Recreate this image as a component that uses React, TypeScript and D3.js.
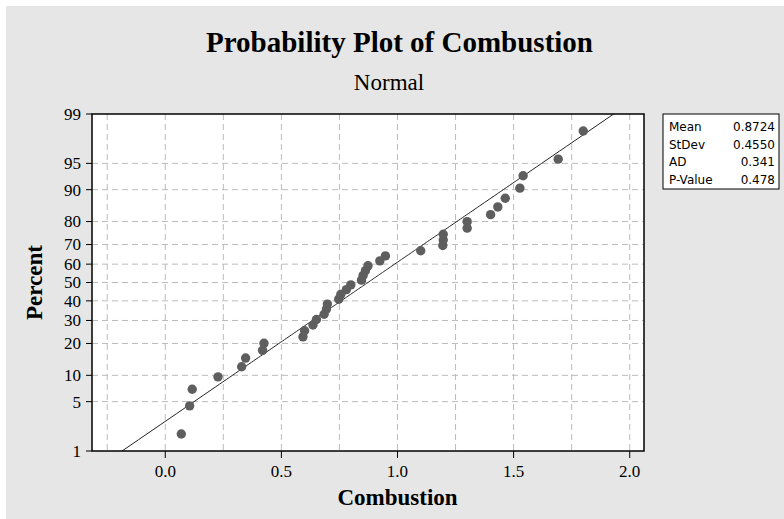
import React from "react";
import * as d3 from "d3";

// ---- Data ----
const combustion = [
  0.069, 0.105, 0.116, 0.227, 0.329, 0.346, 0.419, 0.425,
  0.593, 0.600, 0.636, 0.651, 0.684, 0.694, 0.698,
  0.747, 0.756, 0.780, 0.799,
  0.845, 0.852, 0.862, 0.873,
  0.924, 0.948, 1.100,
  1.195, 1.197, 1.197,
  1.300, 1.300,
  1.401, 1.432, 1.464,
  1.527, 1.541,
  1.692, 1.800,
];
const percentTicks = [1, 5, 10, 20, 30, 40, 50, 60, 70, 80, 90, 95, 99];
const xTickValues = [0, 0.5, 1.0, 1.5, 2.0];
const xGridValues = [-0.25, 0, 0.25, 0.5, 0.75, 1.0, 1.25, 1.5, 1.75, 2.0];
const statLabels = ["Mean", "StDev", "AD", "P-Value"];
const statValues = ["0.8724", "0.4550", "0.341", "0.478"];
const xDomain = [-0.3155, 2.0615];

// inverse normal CDF (Acklam)
function qnorm(p: number): number {
  const a = [-3.969683028665376e1, 2.209460984245205e2, -2.759285104469687e2, 1.38357751867269e2, -3.066479806614716e1, 2.506628277459239];
  const b = [-5.447609879822406e1, 1.615858368580409e2, -1.556989798598866e2, 6.680131188771972e1, -1.328068155288572e1];
  const c = [-7.784894002430293e-3, -3.223964580411365e-1, -2.400758277161838, -2.549732539343734, 4.374664141464968, 2.938163982698783];
  const d = [7.784695709041462e-3, 3.224671290700398e-1, 2.445134137142996, 3.754408661907416];
  const pl = 0.02425;
  let q: number, r: number;
  if (p < pl) {
    q = Math.sqrt(-2 * Math.log(p));
    return (((((c[0] * q + c[1]) * q + c[2]) * q + c[3]) * q + c[4]) * q + c[5]) / ((((d[0] * q + d[1]) * q + d[2]) * q + d[3]) * q + 1);
  } else if (p <= 1 - pl) {
    q = p - 0.5;
    r = q * q;
    return ((((((a[0] * r + a[1]) * r + a[2]) * r + a[3]) * r + a[4]) * r + a[5]) * q) / (((((b[0] * r + b[1]) * r + b[2]) * r + b[3]) * r + b[4]) * r + 1);
  } else {
    q = Math.sqrt(-2 * Math.log(1 - p));
    return -(((((c[0] * q + c[1]) * q + c[2]) * q + c[3]) * q + c[4]) * q + c[5]) / ((((d[0] * q + d[1]) * q + d[2]) * q + d[3]) * q + 1);
  }
}

export default function App() {
  const W = 784, H = 519;
  const L = 92, R = 644, T = 114, B = 451;
  const serif = "'Liberation Serif', 'Times New Roman', serif";
  const sans = "'DejaVu Sans', Tahoma, sans-serif";

  const x = d3.scaleLinear().domain(xDomain).range([L, R]);
  const y = d3.scaleLinear().domain([qnorm(0.01), qnorm(0.99)]).range([B, T]);
  const yp = (pct: number) => y(qnorm(pct / 100));

  const sorted = [...combustion].sort((a, b) => a - b);
  const n = sorted.length;
  const pts = sorted.map((v, i) => ({ v, p: ((i + 1 - 0.3) / (n + 0.4)) * 100 }));

  const mean = +statValues[0];
  const sd = +statValues[1];
  const fitPcts = d3.range(1, 99.01, 0.5);
  const fitLine = d3
    .line<number>()
    .x((p) => x(mean + sd * qnorm(p / 100)))
    .y((p) => yp(p))(fitPcts) as string;

  const gridColor = "#bbbbbb";
  const legendX = 663, legendY = 114, legendW = 116, legendH = 75;
  const rowStep = 17.5;

  return (
    <svg width={W} height={H} style={{ position: "absolute", left: 0, top: 0 }}>
      <rect x={0} y={0} width={W} height={H} fill="#ffffff" />
      <rect x={6} y={6} width={W - 6} height={H - 6} fill="#e6e6e6" />
      <text x={399.5} y={52} textAnchor="middle" fontFamily={serif} fontWeight="bold" fontSize={29} fill="#000">
        Probability Plot of Combustion
      </text>
      <text x={389} y={90} textAnchor="middle" fontFamily={serif} fontSize={23} fill="#000">
        Normal
      </text>

      <rect x={L} y={T} width={R - L} height={B - T} fill="#ffffff" />
      {/* grid */}
      {xGridValues.map((v) => (
        <line key={"gx" + v} x1={x(v)} x2={x(v)} y1={T} y2={B} stroke={gridColor} strokeWidth={1} strokeDasharray="6,4" />
      ))}
      {percentTicks.slice(1, -1).map((p) => (
        <line key={"gy" + p} x1={L} x2={R} y1={yp(p)} y2={yp(p)} stroke={gridColor} strokeWidth={1} strokeDasharray="6,4" />
      ))}

      {/* fit line */}
      <path d={fitLine} fill="none" stroke="#222" strokeWidth={1} />

      {/* points */}
      {pts.map((d, i) => (
        <circle key={i} cx={x(d.v)} cy={yp(d.p)} r={4.7} fill="#5e5e5e" />
      ))}

      {/* frame */}
      <rect x={L} y={T} width={R - L} height={B - T} fill="none" stroke="#000" strokeWidth={1.5} />

      {/* y ticks */}
      {percentTicks.map((p) => (
        <g key={"ty" + p}>
          <line x1={L - 6} x2={L} y1={yp(p)} y2={yp(p)} stroke="#000" strokeWidth={1} />
          <text x={81} y={yp(p)} dy="0.35em" textAnchor="end" fontFamily={serif} fontSize={17} fill="#000">
            {p}
          </text>
        </g>
      ))}
      {/* x ticks */}
      {xTickValues.map((v) => (
        <g key={"tx" + v}>
          <line x1={x(v)} x2={x(v)} y1={B} y2={B + 7} stroke="#000" strokeWidth={1} />
          <text x={x(v)} y={477} textAnchor="middle" fontFamily={serif} fontSize={17} fill="#000">
            {d3.format(".1f")(v)}
          </text>
        </g>
      ))}

      <text x={397.5} y={505} textAnchor="middle" fontFamily={serif} fontWeight="bold" fontSize={23} fill="#000">
        Combustion
      </text>
      <text transform={`translate(42,${(T + B) / 2}) rotate(-90)`} textAnchor="middle" fontFamily={serif} fontWeight="bold" fontSize={23} fill="#000">
        Percent
      </text>

      {/* legend */}
      <rect x={legendX} y={legendY} width={legendW} height={legendH} fill="#fff" stroke="#000" strokeWidth={1} />
      {statLabels.map((s, i) => (
        <g key={s}>
          <text x={669} y={legendY + 17 + i * rowStep} fontFamily={sans} fontSize={12} fill="#000">
            {s}
          </text>
          <text x={775} y={legendY + 17 + i * rowStep} textAnchor="end" fontFamily={sans} fontSize={12} fill="#000">
            {statValues[i]}
          </text>
        </g>
      ))}
    </svg>
  );
}
